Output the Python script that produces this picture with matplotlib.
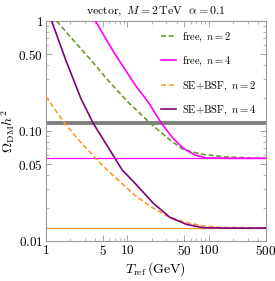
import matplotlib
matplotlib.use("Agg")
import matplotlib.pyplot as plt
from matplotlib.ticker import FixedLocator, NullFormatter

plt.rcParams['mathtext.fontset'] = 'cm'
plt.rcParams['font.family'] = ['DejaVu Serif']

# ---- data ----
T_free2 = [1.353, 2.14, 3.47, 6.10, 10.1, 18.1, 25.1, 35.2, 48.0, 77.6, 157, 318, 500]
O_free2 = [1.0, 0.677, 0.451, 0.276, 0.184, 0.122, 0.0986, 0.0803, 0.0682, 0.0618, 0.0582, 0.0569, 0.0566]

T_free4 = [4.05, 6.69, 12.36, 17.9, 25.8, 35.2, 48.4, 67.3, 93.7, 181, 500]
O_free4 = [1.0, 0.531, 0.264, 0.184, 0.1194, 0.0881, 0.0696, 0.0605, 0.0568, 0.0565, 0.0565]

T_se2 = [1.0, 1.696, 2.61, 4.07, 5.40, 8.09, 12.97, 20.7, 33.2, 53.2, 85.1, 136, 318, 500]
O_se2 = [0.206, 0.1175, 0.0803, 0.0565, 0.0456, 0.0346, 0.0253, 0.0199, 0.0164, 0.0147, 0.0137, 0.0133, 0.0132, 0.0131]

T_se4 = [1.175, 1.745, 2.67, 3.80, 7.03, 8.63, 12.97, 20.7, 33.2, 53.2, 85.1, 181, 500]
O_se4 = [1.0, 0.445, 0.1995, 0.1175, 0.0565, 0.0442, 0.0323, 0.0221, 0.0164, 0.01416, 0.0132, 0.0131, 0.0131]

obs_line = 0.118
free_plateau = 0.0565
se_plateau = 0.0131

x_ticks = [1, 5, 10, 50, 100, 500]
x_ticklabels = ['1', '5', '10', '50', '100', '500']
y_ticks = [0.01, 0.05, 0.10, 0.50, 1]
y_ticklabels = ['0.01', '0.05', '0.10', '0.50', '1']

c_green = '#6f9a2a'
c_mag = '#ff00ff'
c_orange = '#ff9a2e'
c_purple = '#7f007f'

fig = plt.figure(figsize=(2.75, 2.81), dpi=100)
ax = fig.add_axes([0.167, 0.1423, 0.8, 0.783])

ax.axhline(obs_line, color='#808080', lw=2.8, zorder=1)
ax.axhline(free_plateau, color=c_mag, lw=0.9, zorder=2)
ax.axhline(se_plateau, color=c_orange, lw=0.9, zorder=2)

ax.plot(T_free2, O_free2, color=c_green, lw=1.2, ls=(0, (3, 1.6)), label=r'$\mathrm{free},\ n=2$', zorder=3)
ax.plot(T_free4, O_free4, color=c_mag, lw=1.2, label=r'$\mathrm{free},\ n=4$', zorder=3)
ax.plot(T_se2, O_se2, color=c_orange, lw=1.2, ls=(0, (3, 1.6)), label=r'$\mathrm{SE{+}BSF},\ n=2$', zorder=3)
ax.plot(T_se4, O_se4, color=c_purple, lw=1.2, label=r'$\mathrm{SE{+}BSF},\ n=4$', zorder=3)

ax.set_xscale('log')
ax.set_yscale('log')
ax.set_xlim(1, 500)
ax.set_ylim(0.01, 1)

ax.xaxis.set_major_locator(FixedLocator(x_ticks))
ax.set_xticklabels(['$' + s + '$' for s in x_ticklabels])
ax.yaxis.set_major_locator(FixedLocator(y_ticks))
ax.set_yticklabels(['$' + s + '$' for s in y_ticklabels])
xminor = [v * d for d in [1, 10, 100] for v in range(2, 10) if v * d <= 500 and v * d not in x_ticks]
yminor = [v * d for d in [0.01, 0.1] for v in range(2, 10) if round(v * d, 3) not in y_ticks]
ax.xaxis.set_minor_locator(FixedLocator(xminor))
ax.yaxis.set_minor_locator(FixedLocator(yminor))
ax.xaxis.set_minor_formatter(NullFormatter())
ax.yaxis.set_minor_formatter(NullFormatter())

ax.tick_params(which='both', direction='in', top=True, right=True, color='#999999', labelsize=9.5, pad=2)
ax.tick_params(which='major', length=4, width=0.6)
ax.tick_params(which='minor', length=2, width=0.5)
for s in ax.spines.values():
    s.set_color('#999999')
    s.set_linewidth(0.8)

ax.set_xlabel(r'$T_{\rm ref}\,(\mathrm{GeV})$', fontsize=10, labelpad=2)
ax.set_ylabel(r'$\Omega_{\rm DM}h^2$', fontsize=10, labelpad=1)
ax.set_title(r'$\mathrm{vector},\ M=2\,\mathrm{TeV}\ \ \alpha=0.1$', fontsize=8.5, pad=5)

leg = ax.legend(loc='upper right', frameon=False, fontsize=7.6, handlelength=1.4,
                handletextpad=0.6, labelspacing=1.05, borderaxespad=0.5)

fig.savefig('out.png', dpi=100)
